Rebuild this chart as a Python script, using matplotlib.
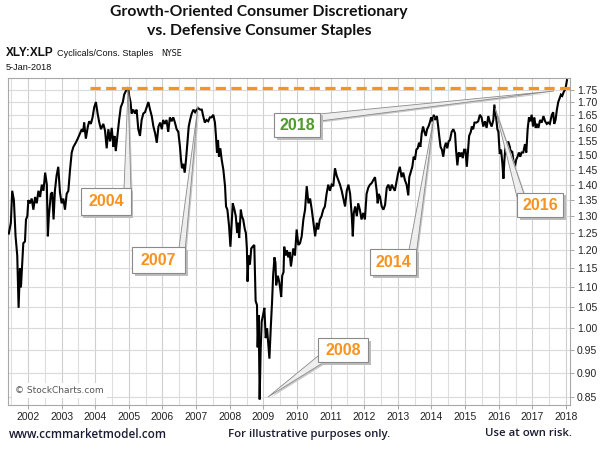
import matplotlib
matplotlib.use("Agg")
import matplotlib.pyplot as plt
from matplotlib.patches import Rectangle, Polygon
import numpy as np

# ---------------- data ----------------
years = [
    2001.43, 2001.49, 2001.53, 2001.58, 2001.63, 2001.68, 2001.72, 2001.76, 2001.79, 2001.86,
    2001.91, 2001.94, 2001.98, 2002.01, 2002.06, 2002.11, 2002.16, 2002.21, 2002.26, 2002.31,
    2002.36, 2002.41, 2002.46, 2002.51, 2002.56, 2002.59, 2002.62, 2002.68, 2002.72, 2002.76,
    2002.80, 2002.85, 2002.90, 2002.95, 2003.00, 2003.05, 2003.10, 2003.15, 2003.20, 2003.25,
    2003.30, 2003.35, 2003.42, 2003.48, 2003.55, 2003.60, 2003.64, 2003.67, 2003.72, 2003.78,
    2003.82, 2003.87, 2003.92, 2003.97, 2004.02, 2004.07, 2004.12, 2004.17, 2004.24, 2004.29,
    2004.34, 2004.39, 2004.44, 2004.49, 2004.54, 2004.57, 2004.61, 2004.66, 2004.71, 2004.76,
    2004.82, 2004.86, 2004.91, 2004.98, 2005.01, 2005.05, 2005.08, 2005.13, 2005.18, 2005.23,
    2005.28, 2005.33, 2005.38, 2005.43, 2005.48, 2005.53, 2005.58, 2005.63, 2005.68, 2005.73,
    2005.78, 2005.83, 2005.88, 2005.93, 2005.98, 2006.02, 2006.07, 2006.12, 2006.17, 2006.22,
    2006.27, 2006.32, 2006.37, 2006.42, 2006.47, 2006.52, 2006.55, 2006.58, 2006.62, 2006.66,
    2006.70, 2006.74, 2006.78, 2006.82, 2006.87, 2006.92, 2006.97, 2007.02, 2007.07, 2007.12,
    2007.17, 2007.21, 2007.26, 2007.31, 2007.36, 2007.41, 2007.46, 2007.51, 2007.56, 2007.59,
    2007.62, 2007.65, 2007.68, 2007.72, 2007.76, 2007.81, 2007.86, 2007.89, 2007.93, 2007.98,
    2008.02, 2008.06, 2008.09, 2008.14, 2008.18, 2008.22, 2008.25, 2008.28, 2008.33, 2008.36,
    2008.40, 2008.45, 2008.48, 2008.51, 2008.53, 2008.56, 2008.60, 2008.64, 2008.68, 2008.73,
    2008.77, 2008.81, 2008.83, 2008.86, 2008.89, 2008.92, 2008.95, 2008.99, 2009.03, 2009.07,
    2009.11, 2009.15, 2009.18, 2009.22, 2009.26, 2009.29, 2009.33, 2009.36, 2009.38, 2009.43,
    2009.47, 2009.50, 2009.53, 2009.56, 2009.60, 2009.62, 2009.66, 2009.70, 2009.74, 2009.78,
    2009.82, 2009.89, 2009.94, 2009.99, 2010.04, 2010.09, 2010.14, 2010.19, 2010.24, 2010.29,
    2010.34, 2010.39, 2010.44, 2010.49, 2010.54, 2010.59, 2010.63, 2010.68, 2010.73, 2010.78,
    2010.83, 2010.88, 2010.93, 2010.98, 2011.03, 2011.08, 2011.13, 2011.18, 2011.23, 2011.28,
    2011.33, 2011.38, 2011.43, 2011.48, 2011.53, 2011.58, 2011.63, 2011.66, 2011.69, 2011.73,
    2011.78, 2011.82, 2011.87, 2011.92, 2011.97, 2012.02, 2012.07, 2012.12, 2012.17, 2012.22,
    2012.27, 2012.32, 2012.37, 2012.40, 2012.43, 2012.47, 2012.52, 2012.57, 2012.62, 2012.67,
    2012.72, 2012.77, 2012.82, 2012.86, 2012.91, 2012.97, 2013.01, 2013.06, 2013.11, 2013.16,
    2013.21, 2013.26, 2013.31, 2013.34, 2013.38, 2013.43, 2013.47, 2013.51, 2013.55, 2013.59,
    2013.63, 2013.67, 2013.71, 2013.75, 2013.79, 2013.83, 2013.87, 2013.91, 2013.95, 2013.99,
    2014.02, 2014.07, 2014.10, 2014.16, 2014.20, 2014.23, 2014.27, 2014.31, 2014.35, 2014.39,
    2014.43, 2014.47, 2014.51, 2014.55, 2014.60, 2014.65, 2014.70, 2014.73, 2014.77, 2014.81,
    2014.85, 2014.89, 2014.93, 2014.97, 2015.01, 2015.05, 2015.09, 2015.12, 2015.17, 2015.20,
    2015.24, 2015.28, 2015.34, 2015.39, 2015.44, 2015.49, 2015.54, 2015.59, 2015.64, 2015.69,
    2015.74, 2015.79, 2015.84, 2015.87, 2015.90, 2015.93, 2015.96, 2015.99, 2016.03, 2016.07,
    2016.11, 2016.14, 2016.17, 2016.21, 2016.25, 2016.28, 2016.33, 2016.36, 2016.40, 2016.45,
    2016.48, 2016.52, 2016.56, 2016.60, 2016.64, 2016.68, 2016.73, 2016.78, 2016.82, 2016.86,
    2016.90, 2016.94, 2016.98, 2017.02, 2017.06, 2017.10, 2017.14, 2017.18, 2017.23, 2017.28,
    2017.33, 2017.38, 2017.43, 2017.47, 2017.52, 2017.58, 2017.62, 2017.65, 2017.69, 2017.73,
    2017.77, 2017.81, 2017.85, 2017.89, 2017.93, 2017.97, 2018.00, 2018.03,
]
ratio = [
    1.248, 1.28, 1.38, 1.35, 1.24, 1.185, 1.048, 1.15, 1.10, 1.22,
    1.225, 1.29, 1.30, 1.35, 1.34, 1.355, 1.32, 1.36, 1.34, 1.38,
    1.36, 1.40, 1.38, 1.44, 1.40, 1.24, 1.30, 1.37, 1.375, 1.29,
    1.38, 1.43, 1.46, 1.375, 1.34, 1.355, 1.32, 1.37, 1.38, 1.45,
    1.51, 1.53, 1.545, 1.56, 1.58, 1.595, 1.585, 1.62, 1.56, 1.605,
    1.625, 1.615, 1.64, 1.68, 1.70, 1.655, 1.62, 1.595, 1.615, 1.59,
    1.525, 1.595, 1.55, 1.60, 1.53, 1.57, 1.515, 1.57, 1.63, 1.68,
    1.70, 1.73, 1.745, 1.76, 1.725, 1.70, 1.655, 1.67, 1.655, 1.67,
    1.595, 1.57, 1.63, 1.655, 1.66, 1.68, 1.70, 1.67, 1.645, 1.605,
    1.58, 1.545, 1.605, 1.62, 1.595, 1.63, 1.615, 1.63, 1.585, 1.64,
    1.625, 1.64, 1.62, 1.595, 1.585, 1.53, 1.485, 1.455, 1.47, 1.44,
    1.485, 1.545, 1.605, 1.63, 1.655, 1.67, 1.66, 1.67, 1.675, 1.67,
    1.67, 1.645, 1.62, 1.63, 1.625, 1.64, 1.64, 1.65, 1.62, 1.57,
    1.51, 1.555, 1.495, 1.525, 1.485, 1.45, 1.395, 1.33, 1.32, 1.27,
    1.21, 1.28, 1.34, 1.32, 1.30, 1.25, 1.28, 1.235, 1.32, 1.30,
    1.29, 1.26, 1.25, 1.205, 1.115, 1.185, 1.16, 1.205, 1.21, 1.215,
    1.065, 1.055, 0.955, 1.03, 0.845, 0.95, 1.015, 1.03, 1.048, 0.976,
    0.999, 0.96, 0.93, 1.00, 1.065, 1.13, 1.18, 1.165, 1.105, 1.13,
    1.115, 1.098, 1.075, 1.13, 1.14, 1.21, 1.185, 1.20, 1.18, 1.195,
    1.155, 1.205, 1.185, 1.26, 1.215, 1.22, 1.24, 1.29, 1.32, 1.395,
    1.34, 1.355, 1.32, 1.28, 1.24, 1.28, 1.26, 1.29, 1.30, 1.32,
    1.33, 1.37, 1.40, 1.38, 1.40, 1.395, 1.455, 1.43, 1.415, 1.40,
    1.38, 1.355, 1.33, 1.38, 1.40, 1.37, 1.30, 1.24, 1.31, 1.33,
    1.30, 1.34, 1.32, 1.29, 1.31, 1.29, 1.37, 1.39, 1.40, 1.405,
    1.415, 1.425, 1.38, 1.34, 1.37, 1.36, 1.33, 1.32, 1.335, 1.39,
    1.40, 1.38, 1.40, 1.39, 1.38, 1.415, 1.44, 1.46, 1.425, 1.44,
    1.415, 1.40, 1.365, 1.425, 1.44, 1.46, 1.495, 1.485, 1.52, 1.525,
    1.545, 1.53, 1.58, 1.605, 1.585, 1.57, 1.595, 1.605, 1.62, 1.64,
    1.625, 1.65, 1.63, 1.645, 1.605, 1.57, 1.53, 1.52, 1.495, 1.53,
    1.545, 1.525, 1.55, 1.555, 1.585, 1.595, 1.58, 1.52, 1.465, 1.51,
    1.495, 1.51, 1.49, 1.52, 1.52, 1.46, 1.52, 1.57, 1.585, 1.605,
    1.595, 1.62, 1.62, 1.625, 1.65, 1.64, 1.605, 1.625, 1.60, 1.645,
    1.62, 1.605, 1.63, 1.69, 1.66, 1.63, 1.595, 1.585, 1.505, 1.52,
    1.47, 1.42, 1.485, 1.545, 1.53, 1.55, 1.53, 1.51, 1.515, 1.47,
    1.46, 1.485, 1.495, 1.51, 1.495, 1.51, 1.51, 1.54, 1.51, 1.595,
    1.64, 1.625, 1.65, 1.605, 1.64, 1.60, 1.615, 1.60, 1.63, 1.62,
    1.645, 1.625, 1.615, 1.62, 1.615, 1.65, 1.66, 1.615, 1.63, 1.67,
    1.70, 1.715, 1.73, 1.725, 1.74, 1.75, 1.765, 1.79,
]
year_labels = [str(y) for y in range(2002, 2019)]
y_ticks = [0.85, 0.90, 0.95, 1.00, 1.05, 1.10, 1.15, 1.20, 1.25, 1.30, 1.35,
           1.40, 1.45, 1.50, 1.55, 1.60, 1.65, 1.70, 1.75]
resistance = 1.757          # 2004 high, orange dashed line
resistance_start = 2003.84

annotations = ["2004", "2007", "2018", "2014", "2016", "2008"]

# ---------------- figure ----------------
W, H = 601, 449
fig = plt.figure(figsize=(W / 100, H / 100), dpi=100)
fig.patch.set_facecolor("white")


def fp(x, y):
    return (x / W, 1 - y / H)


L, R, T, B = 8, 570, 78, 405
ax = fig.add_axes([L / W, 1 - B / H, (R - L) / W, (B - T) / H])
ax.set_yscale("log")
ax.set_xlim(2001.405, 2018.12)
ax.set_ylim(0.834, 1.799)

# grid
for yv in range(2002, 2019):
    ax.axvline(yv, color="#cfcfcf", lw=0.8, zorder=0)
    ax.axvline(yv - 0.5, color="#dedede", lw=0.8, zorder=0)
for t in y_ticks:
    ax.axhline(t, color="#dadada", lw=0.8, zorder=0)

ax.plot(years, ratio, color="black", lw=1.5, zorder=3, solid_joinstyle="miter")
ax.hlines(resistance, resistance_start, 2018.12, colors="#F7931E", lw=2.3,
          linestyles=(0, (3.2, 1.7)), zorder=4)

ax.yaxis.tick_right()
ax.set_yticks(y_ticks)
ax.set_yticklabels([f"{t:.2f}" for t in y_ticks])
ax.yaxis.set_minor_locator(matplotlib.ticker.NullLocator())
ax.set_xticks(list(range(2002, 2019)))
ax.set_xticklabels(year_labels)
ax.tick_params(axis="both", labelsize=7.5, colors="#222222", length=3, width=0.6,
               pad=2)
ax.tick_params(axis="both", color="#999999")
for lab in ax.get_xticklabels() + ax.get_yticklabels():
    lab.set_family("Liberation Sans")
for s in ax.spines.values():
    s.set_color("#a8a8a8")
    s.set_linewidth(0.8)

ax.text(0.012, 0.045, "© StockCharts.com", transform=ax.transAxes, fontsize=6.5,
        color="#555555", family="DejaVu Sans", va="center", ha="left", zorder=5,
        bbox=dict(boxstyle="square,pad=0.35", fc="white", ec="none"))

# ---------------- titles ----------------
fig.text(*fp(259, 12), "Growth-Oriented Consumer Discretionary", ha="center",
         va="center", fontsize=11.3, fontweight="bold", family="Lato",
         color="#111111")
fig.text(*fp(259, 31), "vs. Defensive Consumer Staples", ha="center", va="center",
         fontsize=11.3, fontweight="bold", family="Lato", color="#111111")
fig.text(*fp(6, 53), "XLY:XLP", ha="left", va="center", fontsize=8.5,
         fontweight="bold", family="Liberation Sans", color="#111111")
fig.text(*fp(57, 54), "Cyclicals/Cons. Staples", ha="left", va="center",
         fontsize=6.6, family="Liberation Sans", color="#111111")
fig.text(*fp(161, 54), "NYSE", ha="left", va="center", fontsize=5.8,
         family="DejaVu Sans", color="#111111")
fig.text(*fp(6, 67), "5-Jan-2018", ha="left", va="center", fontsize=6.6,
         family="Liberation Sans", color="#111111")

# ---------------- footer ----------------
fig.text(*fp(9, 434), "www.ccmmarketmodel.com", ha="left", va="center", fontsize=8.4,
         family="Open Sans", fontweight="semibold", color="#1b1b33")
fig.text(*fp(228, 434), "For illustrative purposes only.", ha="left", va="center",
         fontsize=8.2, family="Open Sans", fontweight="semibold", color="#1b1b33")
fig.text(*fp(572, 434), "Use at own risk.", ha="right", va="center", fontsize=8.2,
         family="Open Sans", fontweight="semibold", color="#1b1b33")

# ---------------- callouts ----------------
# (box left, top, right, bottom), wedge base pts, tip, colour
callouts = [
    ((81, 188, 131, 215), [(124, 189), (131, 191)], (128, 89), "#F7931E"),
    ((132, 247, 185, 273), [(179, 248), (185, 252)], (198, 106), "#F7931E"),
    ((274, 113, 320, 137), [(319, 114), (320, 121)], (554, 91), "#4E9A2A"),
    ((370, 249, 416, 275), [(409, 250), (416, 256)], (434, 117), "#F7931E"),
    ((517, 193, 563, 217), [(517, 197), (524, 194)], (495, 108), "#F7931E"),
    ((318, 338, 368, 362), [(318, 356), (326, 361)], (268, 397), "#F7931E"),
]
for label, (box, base, tip, col) in zip(annotations, callouts):
    x0, y0, x1, y1 = box
    sh = [fp(px + 1.5, py + 1.5) for (px, py) in base + [tip]]
    fig.add_artist(Polygon(sh, closed=True, transform=fig.transFigure,
                           fc="#c8c8c8", ec="none", zorder=5))
    pts = [fp(px, py) for (px, py) in base + [tip]]
    fig.add_artist(Polygon(pts, closed=True, transform=fig.transFigure,
                           fc="#eeeeee", ec="#8a8a8a", lw=0.6, zorder=6))
    sx, sy = fp(x0 + 2.5, y1 + 2.5)
    fig.add_artist(Rectangle((sx, sy), (x1 - x0) / W, (y1 - y0) / H,
                             transform=fig.transFigure, fc="#bcbcbc", ec="none",
                             zorder=7))
    bx, by = fp(x0, y1)
    fig.add_artist(Rectangle((bx, by), (x1 - x0) / W, (y1 - y0) / H,
                             transform=fig.transFigure, fc="white", ec="#8a8a8a",
                             lw=0.8, zorder=8))
    fig.text(*fp((x0 + x1) / 2, (y0 + y1) / 2 + 0.5), label, ha="center",
             va="center", fontsize=11.5, fontweight="bold",
             family="Liberation Sans", color=col, zorder=9)

fig.savefig("out.png", dpi=100)
